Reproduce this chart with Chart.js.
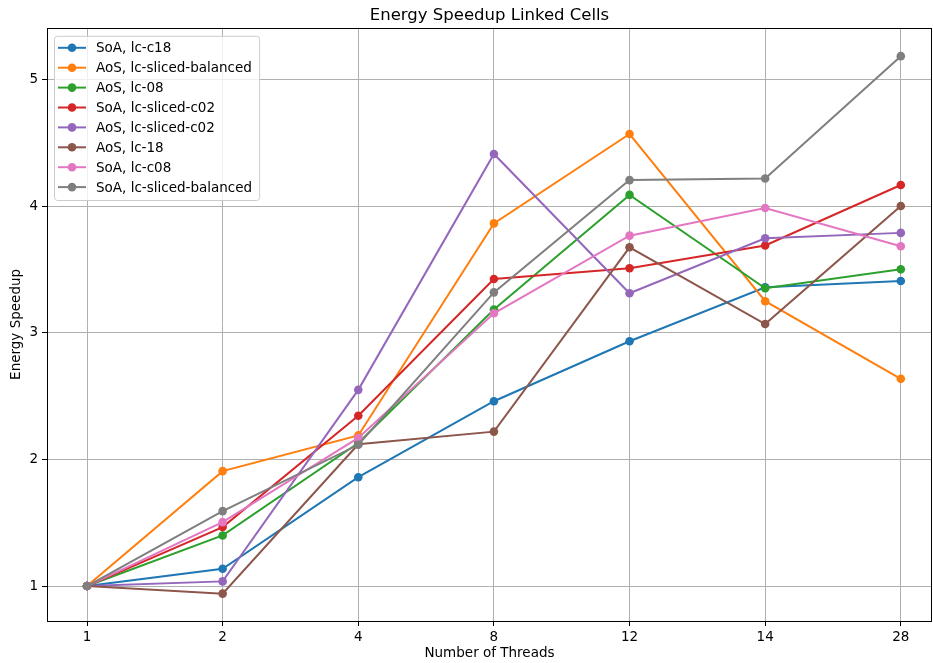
<!DOCTYPE html>
<html>
<head>
<meta charset="utf-8">
<script src="https://cdn.jsdelivr.net/npm/chart.js@4/dist/chart.umd.min.js"></script>
<style>
  html, body { margin: 0; padding: 0; background: #fff; }
  #wrap { width: 933px; height: 663px; }
</style>
</head>
<body>
<div id="wrap"><canvas id="c" width="933" height="663"></canvas></div>
<script>
var threads = ['1', '2', '4', '8', '12', '14', '28'];
var yTicks = [1, 2, 3, 4, 5];

var seriesNames = [
  'SoA, lc-c18',
  'AoS, lc-sliced-balanced',
  'AoS, lc-08',
  'SoA, lc-sliced-c02',
  'AoS, lc-sliced-c02',
  'AoS, lc-18',
  'SoA, lc-c08',
  'SoA, lc-sliced-balanced'
];
var soaC18        = [1.0, 1.137, 1.86, 2.46, 2.934, 3.36, 3.41];
var aosSlicedBal  = [1.0, 1.908, 2.19, 3.865, 4.571, 3.25, 2.637];
var aosLc08       = [1.0, 1.40, 2.13, 3.184, 4.09, 3.352, 3.502];
var soaSlicedC02  = [1.0, 1.466, 2.345, 3.426, 3.51, 3.69, 4.168];
var aosSlicedC02  = [1.0, 1.037, 2.55, 4.413, 3.313, 3.747, 3.79];
var aosLc18       = [1.0, 0.94, 2.12, 2.22, 3.676, 3.07, 4.002];
var soaLcC08      = [1.0, 1.505, 2.17, 3.155, 3.768, 3.987, 3.684];
var soaSlicedBal  = [1.0, 1.592, 2.116, 3.32, 4.207, 4.22, 5.186];

var seriesValues = [soaC18, aosSlicedBal, aosLc08, soaSlicedC02, aosSlicedC02, aosLc18, soaLcC08, soaSlicedBal];
var colors = ['#1f77b4', '#ff7f0e', '#2ca02c', '#d62728', '#9467bd', '#8c564b', '#e377c2', '#7f7f7f'];

var FONT = "'DejaVu Sans', sans-serif";

var datasets = seriesNames.map(function(name, i){
  return {
    label: name,
    data: seriesValues[i].map(function(v, j){ return {x: j, y: v}; }),
    borderColor: colors[i],
    backgroundColor: colors[i],
    borderWidth: 2,
    pointRadius: 4.3,
    pointBorderWidth: 0,
    pointBackgroundColor: colors[i],
    order: seriesNames.length - i,
    tension: 0
  };
});

// no extra room for edge tick labels, the plot area is fixed
function noPadding(s){
  s._calculatePadding = function(){
    this.paddingLeft = 0; this.paddingRight = 0;
    this.paddingTop = 0; this.paddingBottom = 0;
  };
}

// frame around the plot area + legend inside upper-left
var framePlugin = {
  id: 'frame',
  afterDraw: function(chart){
    var ctx = chart.ctx, a = chart.chartArea;
    ctx.save();
    ctx.strokeStyle = '#000';
    ctx.lineWidth = 1;
    ctx.strokeRect(Math.round(a.left) + 0.5, Math.round(a.top) + 0.5,
      Math.round(a.right - a.left) - 1, Math.round(a.bottom - a.top));

    ctx.font = '13.5px ' + FONT;
    var maxW = 0;
    chart.data.datasets.forEach(function(ds){
      var w = ctx.measureText(ds.label).width;
      if (w > maxW) maxW = w;
    });
    var bx = a.left + 7, by = a.top + 8;
    var rowH = 19.9;
    var bw = 42 + maxW + 7;
    var bh = rowH * chart.data.datasets.length + 5;
    ctx.beginPath();
    if (ctx.roundRect) ctx.roundRect(bx + 0.5, by + 0.5, bw, bh, 3);
    else ctx.rect(bx + 0.5, by + 0.5, bw, bh);
    ctx.fillStyle = 'rgba(255,255,255,0.8)';
    ctx.fill();
    ctx.strokeStyle = '#cccccc';
    ctx.stroke();

    ctx.textBaseline = 'middle';
    ctx.textAlign = 'left';
    chart.data.datasets.forEach(function(ds, i){
      var y = by + 12 + i * rowH;
      ctx.strokeStyle = ds.borderColor;
      ctx.lineWidth = 2;
      ctx.beginPath();
      ctx.moveTo(bx + 4, y);
      ctx.lineTo(bx + 32, y);
      ctx.stroke();
      ctx.fillStyle = ds.borderColor;
      ctx.beginPath();
      ctx.arc(bx + 18, y, 4.3, 0, Math.PI * 2);
      ctx.fill();
      ctx.fillStyle = '#000';
      ctx.fillText(ds.label, bx + 42, y + 1);
    });
    ctx.restore();
  }
};

new Chart(document.getElementById('c'), {
  type: 'line',
  data: { datasets: datasets },
  plugins: [framePlugin],
  options: {
    responsive: false,
    animation: false,
    layout: { autoPadding: false, padding: { left: 0, right: 1, top: 0, bottom: 0 } },
    plugins: {
      legend: { display: false },
      tooltip: { enabled: false },
      title: {
        display: true,
        text: 'Energy Speedup Linked Cells',
        color: '#000',
        fullSize: false,
        font: { family: FONT, size: 16.5, weight: 'normal' },
        padding: { top: 6, bottom: 2 }
      }
    },
    scales: {
      x: {
        type: 'linear',
        min: -0.295,
        max: 6.23,
        beforeFit: noPadding,
        afterBuildTicks: function(s){
          s.ticks = threads.map(function(t, i){ return {value: i}; });
        },
        afterFit: function(s){ s.height = 42; },
        ticks: {
          color: '#000',
          font: { family: FONT, size: 13.5 },
          padding: 3,
          maxRotation: 0,
          callback: function(v){ return threads[v]; }
        },
        grid: { color: '#b0b0b0', lineWidth: 1, tickLength: 5, tickColor: '#000' },
        border: { display: false },
        title: {
          display: true,
          text: 'Number of Threads',
          color: '#000',
          font: { family: FONT, size: 13.5 },
          padding: { top: 0, bottom: 1 }
        }
      },
      y: {
        type: 'linear',
        min: 0.724,
        max: 5.41,
        beforeFit: noPadding,
        afterBuildTicks: function(s){
          s.ticks = yTicks.map(function(v){ return {value: v}; });
        },
        afterFit: function(s){ s.width = 47; },
        ticks: {
          color: '#000',
          font: { family: FONT, size: 13.5 },
          padding: 4,
          callback: function(v){ return String(v); }
        },
        grid: { color: '#b0b0b0', lineWidth: 1, tickLength: 5, tickColor: '#000' },
        border: { display: false },
        title: {
          display: true,
          text: 'Energy Speedup',
          color: '#000',
          font: { family: FONT, size: 13.5 },
          padding: { top: 8, bottom: 0 }
        }
      }
    }
  }
});
</script>
</body>
</html>
